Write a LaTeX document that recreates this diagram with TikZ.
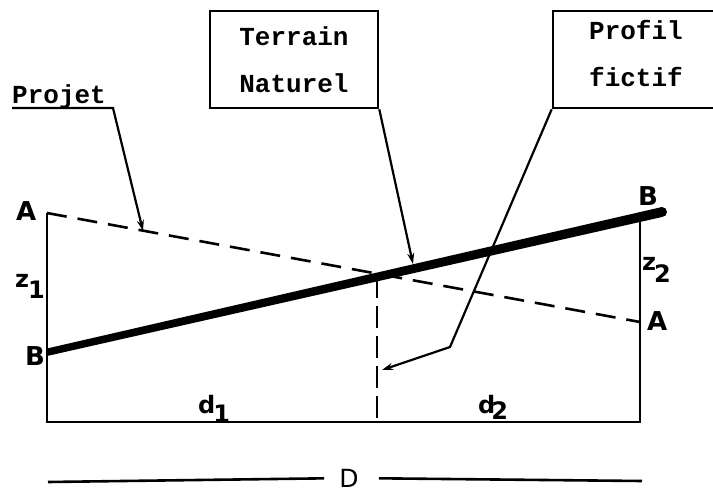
\documentclass[tikz,border=0pt]{standalone}
\usepackage{fontspec}
\newfontfamily\tw{Liberation Mono}
\newfontfamily\lab{DejaVu Sans}
\usetikzlibrary{arrows.meta,calc}
\begin{document}
\begin{tikzpicture}[x=1pt,y=-1pt,
  frame/.style={line width=2.6pt},
  leader/.style={line width=2.2pt,-{Stealth[length=11pt,width=7pt]}},
  projline/.style={line width=2.6pt,dash pattern=on 20pt off 11pt},
  box/.style={draw,line width=2.6pt,rectangle,inner sep=0pt},
  boxtext/.style={font=\tw\bfseries\fontsize{26}{47}\selectfont,align=center},
  lbl/.style={font=\lab\bfseries\fontsize{26}{26}\selectfont,inner sep=0pt},
  sub/.style={font=\lab\bfseries\fontsize{24}{24}\selectfont,inner sep=0pt}
]
\clip (0,0) rectangle (713,493);
% key points
\coordinate (A1) at (47,213);
\coordinate (A2) at (640,322);
\coordinate (B1) at (47,352);
\coordinate (B2) at (662,212);
\coordinate (BL) at (47,422);
\coordinate (BR) at (640,422);
\coordinate (RT) at (640,220);
\coordinate (I)  at (377,276);
\coordinate (IB) at (377,422);
% frame
\draw[frame] (A1) -- (BL) -- (BR) -- (RT);
% projet (dashed)
\draw[projline] (A1) -- (A2);
% fictitious vertical
\draw[line width=2.2pt,dash pattern=on 22pt off 8pt] (I) -- (IB);
% terrain naturel (thick)
\fill (47,348.5) -- (662,207) -- (662,217) -- (47,356) -- cycle;
\fill (B2) circle (5);
% labels
\node[lbl,anchor=base west] (la1) at (16,220) {A};
\node[lbl,anchor=base west] (lb1) at (25,365) {B};
\node[lbl,anchor=base west] (lb2) at (638,205) {B};
\node[lbl,anchor=base west] (la2) at (647,330) {A};
\node[sub,anchor=base west] (z1) at (15,287) {z\kern-1pt\raisebox{-11pt}{1}};
\node[sub,anchor=base west] (z2) at (642,270) {z\kern-2pt\raisebox{-12pt}{2}};
\node[sub,anchor=base west] (d1) at (198,413) {d\kern-2pt\raisebox{-9pt}{1}};
\node[sub,anchor=base west] (d2) at (478,413) {d\kern-4pt\raisebox{-6pt}{2}};
% D dimension
\coordinate (DL) at (48,482);
\coordinate (DR) at (642,481);
\node[lbl,font=\lab\fontsize{25}{25}\selectfont] (D) at (349,478) {D};
\draw[frame,shorten >=15pt] (DL) -- (D);
\draw[frame,shorten >=20pt] (DR) -- (D);
% boxes
\node[box,boxtext,minimum width=168pt,minimum height=97pt] (tn) at (294,59.5) {Terrain\\Naturel};
\node[box,minimum width=200pt,minimum height=97pt] (pf) at (653,59.5) {};
\node[boxtext,inner sep=0pt] (pft) at (636,54) {Profil\\fictif};
\node[font=\tw\bfseries\fontsize{26}{26}\selectfont,inner sep=0pt,anchor=base west] (pj) at (12,103) {Projet};
% leaders
\coordinate (u1) at (12,108);
\coordinate (u2) at (113,108);
\coordinate (pP) at (143,231);
\coordinate (pT) at (413,264);
\coordinate (pfk) at (450,347);
\coordinate (pF) at (382,370);
\draw[leader] (u1) -- (u2) -- (pP);
\draw[leader] (tn.south east) -- (pT);
\draw[leader] (pf.south west) -- (pfk) -- (pF);
\end{tikzpicture}
\end{document}
